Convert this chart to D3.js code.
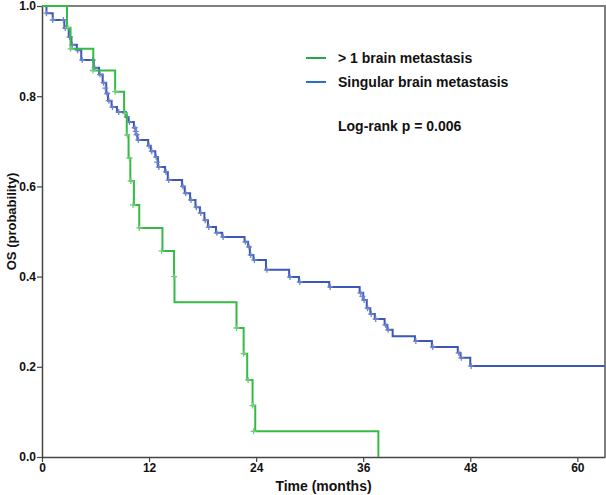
<!DOCTYPE html>
<html>
<head>
<meta charset="utf-8">
<script src="https://cdn.jsdelivr.net/npm/d3@7"></script>
<style>
    body { margin: 0; background: white; }
    svg { display: block; font-family: "Liberation Sans", Arial, sans-serif; }
</style>
</head>
<body>
<svg id="chart" width="606" height="495"></svg>
<script>
// step points [time (months), survival after the drop]
let greenSteps = [
    [0, 1], [2.8, 0.952], [3.2, 0.905], [5.75, 0.857], [8.2, 0.810], [9.2, 0.762],
    [9.5, 0.714], [9.7, 0.663], [9.9, 0.612], [10.3, 0.559], [10.9, 0.508],
    [13.5, 0.457], [14.8, 0.400], [14.85, 0.343], [21.8, 0.286], [22.6, 0.229],
    [23.0, 0.171], [23.6, 0.114], [23.9, 0.057], [37.7, 0]
];

let blueSteps = [
    [0, 1], [0.5, 0.984], [1.2, 0.969], [2.5, 0.951], [3.0, 0.931], [3.3, 0.914],
    [3.9, 0.902], [4.4, 0.880], [5.8, 0.863], [6.4, 0.848], [6.8, 0.830], [7.2, 0.806],
    [7.4, 0.790], [7.8, 0.776], [8.4, 0.765], [9.4, 0.754], [9.7, 0.743], [10.3, 0.730],
    [10.5, 0.715], [10.7, 0.703], [11.9, 0.690], [12.2, 0.678], [12.7, 0.665], [13.0, 0.643],
    [13.8, 0.632], [14.1, 0.614], [15.7, 0.600], [16.0, 0.585], [16.6, 0.570], [17.2, 0.554],
    [17.7, 0.541], [18.2, 0.525], [18.6, 0.510], [19.5, 0.497], [20.2, 0.488], [22.7, 0.477],
    [23.1, 0.466], [23.3, 0.448], [23.7, 0.437], [25.1, 0.415], [27.7, 0.399], [28.8, 0.388],
    [32.2, 0.377], [35.6, 0.364], [36.0, 0.348], [36.4, 0.330], [36.8, 0.317], [37.3, 0.306],
    [38.4, 0.293], [38.7, 0.282], [39.3, 0.268], [41.8, 0.257], [43.7, 0.244], [46.6, 0.231],
    [46.9, 0.220], [48.0, 0.202], [63.1, 0.202]
];

// censored marks [time, survival]
let greenCensored = [
    [2.9, 0.952], [3.2, 0.905], [5.7, 0.857], [8.2, 0.810], [9.3, 0.762], [9.55, 0.714],
    [9.8, 0.663], [9.95, 0.612], [10.2, 0.559], [10.9, 0.508], [13.4, 0.457], [14.8, 0.400],
    [21.8, 0.286], [22.6, 0.229], [23.1, 0.171], [23.6, 0.114], [23.7, 0.057]
];

let blueCensored = [
    [0.5, 0.984], [1.2, 0.969], [2.4, 0.969], [2.6, 0.951], [3.1, 0.931], [3.4, 0.914],
    [4.0, 0.902], [4.5, 0.880], [5.7, 0.880], [5.9, 0.863], [6.5, 0.848], [6.9, 0.830],
    [7.1, 0.818], [7.3, 0.806], [7.5, 0.790], [7.9, 0.776], [8.6, 0.765], [9.5, 0.754],
    [9.8, 0.743], [10.4, 0.730], [10.5, 0.722], [10.6, 0.715], [10.8, 0.703], [12.0, 0.690],
    [12.3, 0.678], [12.8, 0.665], [12.9, 0.654], [13.1, 0.643], [13.9, 0.632], [14.2, 0.614],
    [15.8, 0.600], [16.1, 0.585], [16.7, 0.570], [17.3, 0.554], [17.8, 0.541], [18.3, 0.525],
    [18.7, 0.510], [19.6, 0.497], [20.3, 0.488], [22.8, 0.477], [23.2, 0.466], [23.4, 0.448],
    [23.8, 0.437], [25.2, 0.415], [27.8, 0.399], [28.9, 0.388], [32.3, 0.377], [35.7, 0.364],
    [35.9, 0.356], [36.1, 0.348], [36.5, 0.330], [36.9, 0.317], [37.4, 0.306], [38.5, 0.293],
    [38.8, 0.282], [41.9, 0.257], [43.8, 0.244], [46.7, 0.231], [47.0, 0.220], [48.1, 0.202]
];

let xTicks = [0, 12, 24, 36, 48, 60];
let yTicks = [0, 0.2, 0.4, 0.6, 0.8, 1.0];
let seriesNames = ["> 1 brain metastasis", "Singular brain metastasis"];
let pText = "Log-rank p = 0.006";

let margin = {top: 6, right: 1, bottom: 38, left: 42};
let width = 606;
let height = 495;
let boldFont = size => `bold ${size}px 'Liberation Sans', Arial, sans-serif`;

let svg = d3.select("#chart");

let x = d3.scaleLinear([0, 63.1], [margin.left, width - margin.right]);
let y = d3.scaleLinear([0, 1], [height - margin.bottom, margin.top]);

// frame (top and right)
svg.append("path")
    .attr("d", `M${x(0)},${y(1)}H${x(63.1)}V${y(0)}`)
    .attr("fill", "none")
    .attr("stroke", "#7f7f7f")
    .attr("stroke-width", 2);

let xAxis = svg.append("g")
    .attr("transform", `translate(0,${y(0)})`)
    .call(d3.axisBottom(x).tickValues(xTicks).tickFormat(d3.format("d")).tickSize(5).tickSizeOuter(0));

let yAxis = svg.append("g")
    .attr("transform", `translate(${x(0)},0)`)
    .call(d3.axisLeft(y).tickValues(yTicks).tickFormat(d3.format(".1f")).tickSize(5).tickSizeOuter(0));

for (let g of [xAxis, yAxis])
{
    g.select(".domain").attr("stroke", "#444").attr("stroke-width", 1.5);
    g.selectAll(".tick line").attr("stroke", "#444").attr("stroke-width", 1.2);
    g.selectAll(".tick text")
        .attr("fill", "#111")
        .style("font", boldFont(12));
}
xAxis.selectAll(".tick text").attr("y", 6).attr("dy", "0.71em");
yAxis.selectAll(".tick text").attr("x", -6);

svg.append("text")
    .attr("x", (x(0) + x(63.1)) / 2)
    .attr("y", 491)
    .attr("text-anchor", "middle")
    .style("font", boldFont(14))
    .attr("fill", "#111")
    .text("Time (months)");

svg.append("text")
    .attr("transform", `translate(16,${(y(0) + y(1)) / 2 - 10}) rotate(-90)`)
    .attr("text-anchor", "middle")
    .style("font", boldFont(13))
    .attr("fill", "#111")
    .text("OS (probability)");

let line = d3.line()
    .x(d => x(d[0]))
    .y(d => y(d[1]))
    .curve(d3.curveStepAfter);

let series = [
    {steps: blueSteps, censored: blueCensored, color: "#3b57b8", tick: "#6f86cf"},
    {steps: greenSteps, censored: greenCensored, color: "#35bb45", tick: "#6fcf78"}
];

for (let s of series)
{
    svg.append("path")
        .datum(s.steps)
        .attr("fill", "none")
        .attr("stroke", s.color)
        .attr("stroke-width", 2)
        .attr("d", line);

    svg.append("g")
        .selectAll("path")
        .data(s.censored)
        .join("path")
        .attr("d", d => `M${x(d[0]) - 3},${y(d[1])}h6M${x(d[0])},${y(d[1]) - 3}v6`)
        .attr("stroke", s.tick)
        .attr("stroke-width", 1.3);
}

// legend
let legendColors = ["#22a84a", "#2470c6"];
let legend = svg.append("g");
seriesNames.forEach((name, i) =>
{
    let ly = 58 + i * 24;
    legend.append("line")
        .attr("x1", 306).attr("x2", 326)
        .attr("y1", ly).attr("y2", ly)
        .attr("stroke", legendColors[i])
        .attr("stroke-width", 2);
    legend.append("text")
        .attr("x", 338)
        .attr("y", ly + 5)
        .style("font", boldFont(14))
        .attr("fill", "#111")
        .text(name);
});

svg.append("text")
    .attr("x", 338)
    .attr("y", 131)
    .style("font", boldFont(14))
    .attr("fill", "#111")
    .text(pText);
</script>
</body>
</html>
